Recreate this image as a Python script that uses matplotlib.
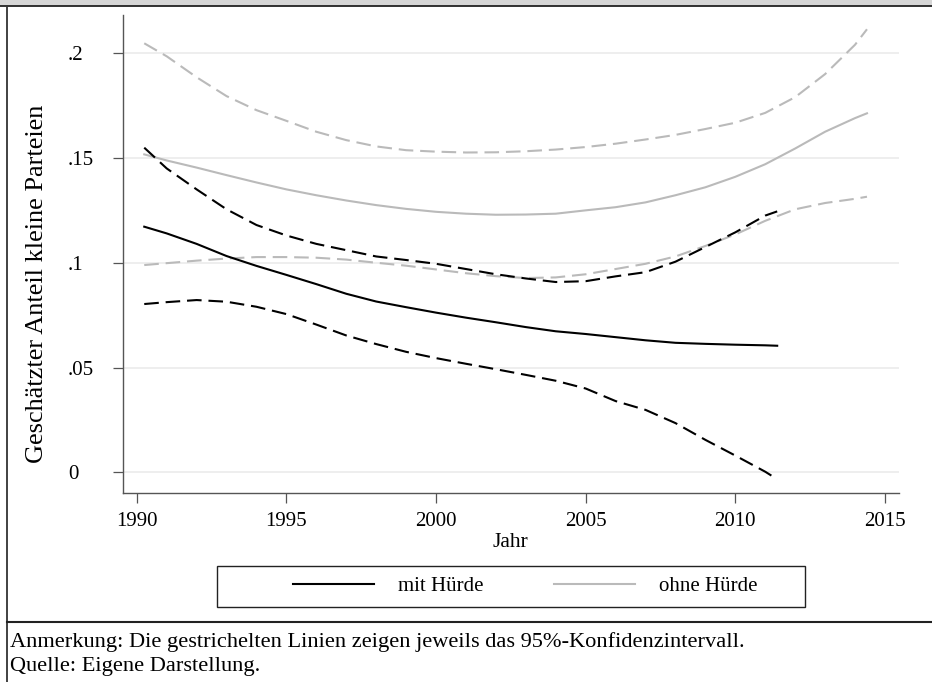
import matplotlib
matplotlib.use("Agg")
import matplotlib.pyplot as plt
from matplotlib.lines import Line2D
from matplotlib.patches import Rectangle

plt.rcParams["font.family"] = ["Liberation Serif", "DejaVu Serif"]

# mit Hürde: Schätzung und 95%-Konfidenzintervall
years_mit = [1990.25, 1991, 1992, 1993, 1994, 1995, 1996, 1997, 1998, 1999, 2000,
             2001, 2002, 2003, 2004, 2005, 2006, 2007, 2008, 2009, 2010, 2011, 2011.4]
mit_fit = [0.1172, 0.1140, 0.1090, 0.1032, 0.0985, 0.0942, 0.0898, 0.0852, 0.0815,
           0.0788, 0.0762, 0.0738, 0.0716, 0.0693, 0.0673, 0.0660, 0.0645, 0.0630,
           0.0618, 0.0613, 0.0609, 0.0606, 0.0604]
mit_upper = [0.1549, 0.1450, 0.1350, 0.1255, 0.1180, 0.1130, 0.1090, 0.1060, 0.1030,
             0.1013, 0.0995, 0.0970, 0.0945, 0.0925, 0.0908, 0.0912, 0.0935, 0.0955,
             0.1005, 0.1075, 0.1145, 0.1225, 0.1245]
mit_lower = [0.0803, 0.0812, 0.0822, 0.0814, 0.0790, 0.0755, 0.0705, 0.0653, 0.0612,
             0.0575, 0.0545, 0.0518, 0.0492, 0.0465, 0.0437, 0.0400, 0.0340, 0.0298,
             0.0235, 0.0155, 0.0080, 0.0003, -0.0033]

# ohne Hürde
years_ohne = [1990.25, 1991, 1992, 1993, 1994, 1995, 1996, 1997, 1998, 1999, 2000,
              2001, 2002, 2003, 2004, 2005, 2006, 2007, 2008, 2009, 2010, 2011,
              2012, 2013, 2014, 2014.4]
ohne_fit = [0.1517, 0.1488, 0.1454, 0.1418, 0.1383, 0.1350, 0.1322, 0.1297, 0.1275,
            0.1257, 0.1243, 0.1234, 0.1229, 0.1230, 0.1234, 0.1250, 0.1265, 0.1288,
            0.1322, 0.1360, 0.1410, 0.1470, 0.1545, 0.1625, 0.1690, 0.1713]
ohne_upper = [0.2047, 0.1985, 0.1885, 0.1795, 0.1728, 0.1677, 0.1625, 0.1585, 0.1555,
              0.1537, 0.1530, 0.1526, 0.1527, 0.1532, 0.1540, 0.1552, 0.1568, 0.1588,
              0.1610, 0.1638, 0.1668, 0.1715, 0.1790, 0.1900, 0.2040, 0.2114]
ohne_lower = [0.0989, 0.0998, 0.1010, 0.1020, 0.1027, 0.1027, 0.1024, 0.1015, 0.1000,
              0.0986, 0.0968, 0.0950, 0.0936, 0.0927, 0.0930, 0.0945, 0.0970, 0.0995,
              0.1030, 0.1080, 0.1135, 0.1200, 0.1255, 0.1285, 0.1305, 0.1315]

x_ticks = [1990, 1995, 2000, 2005, 2010, 2015]
y_ticks = [0, 0.05, 0.1, 0.15, 0.2]
y_tick_labels = ["0", ".05", ".1", ".15", ".2"]

W, H = 932, 682
fig = plt.figure(figsize=(W / 100, H / 100), dpi=100)
ax = fig.add_axes([123.3 / W, 1 - 493.3 / H, (899 - 123.3) / W, (493.3 - 15) / H])

gray = "#bababa"
dash = (7, 3.3)

for yv in y_ticks:
    ax.axhline(yv, color="#ededed", lw=1.3, zorder=0)

ax.plot(years_ohne, ohne_upper, color=gray, lw=1.5, dashes=dash)
ax.plot(years_ohne, ohne_lower, color=gray, lw=1.5, dashes=dash)
l_ohne, = ax.plot(years_ohne, ohne_fit, color=gray, lw=1.5)
ax.plot(years_mit, mit_upper, color="black", lw=1.5, dashes=dash)
ax.plot(years_mit, mit_lower, color="black", lw=1.5, dashes=dash)
l_mit, = ax.plot(years_mit, mit_fit, color="black", lw=1.5)

ax.set_xlim(1989.55, 2015.47)
ax.set_ylim(-0.0100, 0.2182)
ax.set_xticks(x_ticks)
ax.set_yticks(y_ticks)
ax.set_yticklabels(y_tick_labels)
for s in ["top", "right"]:
    ax.spines[s].set_visible(False)
for s in ["left", "bottom"]:
    ax.spines[s].set_color("#555555")
    ax.spines[s].set_linewidth(1.0)
ax.tick_params(axis="both", length=7.2, width=0.9, color="#555555", labelsize=15)
ax.tick_params(axis="x", pad=6)
ax.tick_params(axis="y", pad=32.6)
for lab in ax.get_yticklabels():
    lab.set_horizontalalignment("left")

fig.text(510 / W, 1 - 546.7 / H, "Jahr", ha="center", va="baseline", fontsize=15.5)
fig.text(43 / W, 1 - 284 / H, "Geschätzter Anteil kleine Parteien", rotation=90,
         rotation_mode="anchor", ha="center", va="baseline", fontsize=18.9)

# Legende
fig.legend([l_mit, l_ohne], ["mit Hürde", "ohne Hürde"], ncol=2, loc="center",
           bbox_to_anchor=(525 / W, 1 - 586.7 / H), frameon=False, fontsize=15,
           handlelength=3.9, handletextpad=1.15, columnspacing=3.36, borderpad=0)
fig.add_artist(Rectangle((216.7 / W, 1 - 607 / H), (805 - 216.7) / W, 41.3 / H,
                         transform=fig.transFigure, fill=False, ec="#222222", lw=1.0))

# Rahmen, Kopfband und Anmerkung
fig.add_artist(Rectangle((0, 1 - 5.5 / H), 1, 5.5 / H, transform=fig.transFigure,
                         fc="#d6d6d6", ec="none"))
fig.add_artist(Line2D([0, 1], [1 - 5.5 / H] * 2, transform=fig.transFigure,
                      color="#222222", lw=1.3))
fig.add_artist(Line2D([7 / W] * 2, [0, 1 - 5.5 / H], transform=fig.transFigure,
                      color="#333333", lw=1.3))
fig.add_artist(Line2D([7 / W, 1], [1 - 622 / H] * 2, transform=fig.transFigure,
                      color="#222222", lw=1.5))

fig.text(10 / W, 1 - 647 / H,
         "Anmerkung: Die gestrichelten Linien zeigen jeweils das 95%-Konfidenzintervall.",
         ha="left", va="baseline", fontsize=16.1)
fig.text(10 / W, 1 - 671 / H, "Quelle: Eigene Darstellung.",
         ha="left", va="baseline", fontsize=16.1)

fig.savefig("out.png", dpi=100)
